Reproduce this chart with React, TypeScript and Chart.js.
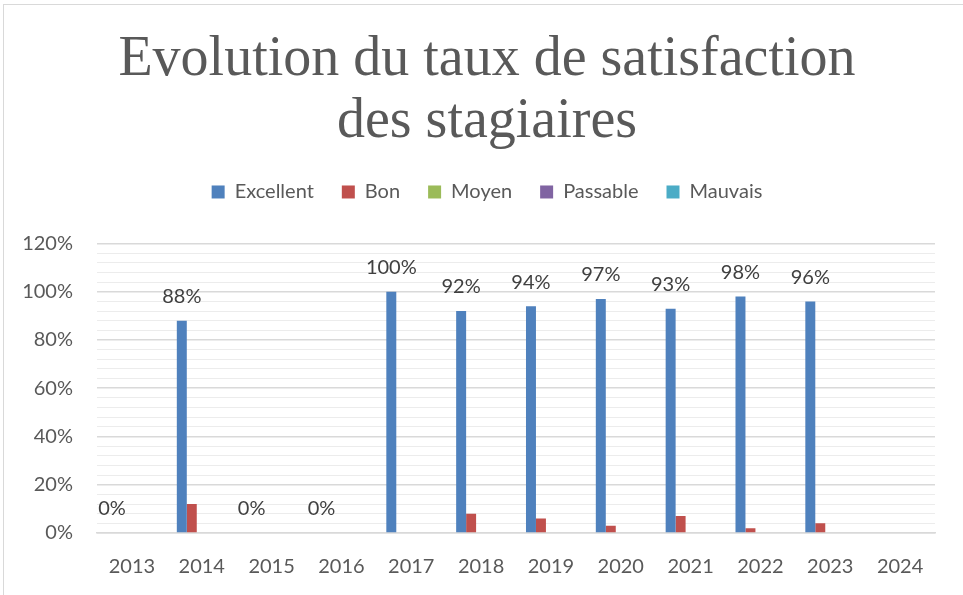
import React, { useEffect, useRef } from 'react';
import { Chart, registerables } from 'chart.js';

Chart.register(...registerables);

const years = ['2013', '2014', '2015', '2016', '2017', '2018', '2019', '2020', '2021', '2022', '2023', '2024'];
const seriesNames = ['Excellent', 'Bon', 'Moyen', 'Passable', 'Mauvais'];
const excellent = [0, 88, 0, 0, 100, 92, 94, 97, 93, 98, 96, null];
const bon = [null, 12, null, null, 0, 8, 6, 3, 7, 2, 4, null];
const moyen = [null, null, null, null, null, null, null, null, null, null, null, null];
const passable = [null, null, null, null, null, null, null, null, null, null, null, null];
const mauvais = [null, null, null, null, null, null, null, null, null, null, null, null];
const seriesColors = ['#4F81BD', '#C0504D', '#9BBB59', '#8064A2', '#4BACC6'];
const titleLines = ['Evolution du taux de satisfaction', 'des stagiaires'];
const yMin = 0;
const yMax = 120;
const yMinorStep = 4;
const yMajorStep = 20;

const SANS = 'Lato';

const valueLabels = {
  id: 'valueLabels',
  afterDatasetsDraw(chart: any) {
    const ctx = chart.ctx;
    const meta = chart.getDatasetMeta(0);
    const data = chart.data.datasets[0].data;
    ctx.save();
    ctx.font = `20px ${SANS}`;
    ctx.fillStyle = '#404040';
    ctx.textAlign = 'center';
    ctx.textBaseline = 'middle';
    meta.data.forEach((el: any, i: number) => {
      const v = data[i];
      if (v === null || v === undefined) return;
      ctx.fillText(`${v}%`, el.x, el.y - 24);
    });
    ctx.restore();
  },
};

export default function App() {
  const ref = useRef<HTMLCanvasElement | null>(null);

  useEffect(() => {
    if (!ref.current) return;
    const all = [excellent, bon, moyen, passable, mauvais];
    const chart = new Chart(ref.current, {
      type: 'bar',
      data: {
        labels: years,
        datasets: seriesNames.map((name, i) => ({
          label: name,
          data: all[i],
          backgroundColor: seriesColors[i],
          borderWidth: 0,
          categoryPercentage: 0.714,
          barPercentage: 1,
          yAxisID: 'y',
        })),
      },
      options: {
        responsive: false,
        animation: false,
        devicePixelRatio: 1,
        layout: { padding: { left: 19, right: 8, top: 0, bottom: 0 } },
        plugins: {
          tooltip: { enabled: false },
          title: {
            display: true,
            text: titleLines,
            color: '#595959',
            font: { family: 'Liberation Serif', size: 56, weight: 'normal', lineHeight: 1.107 },
            padding: { top: 29, bottom: 1 },
          },
          subtitle: {
            display: true,
            text: '',
            position: 'top',
            weight: 500,
            font: { size: 10, lineHeight: 3.15 },
            padding: 0,
          },
          legend: {
            display: true,
            position: 'top',
            labels: {
              color: '#595959',
              font: { family: SANS, size: 20 },
              boxWidth: 13,
              boxHeight: 13,
              padding: 28,
            },
          },
        },
        scales: {
          x: {
            grid: { display: false, drawTicks: false },
            border: { display: true, color: '#d9d9d9', width: 1.5 },
            ticks: { color: '#595959', font: { family: SANS, size: 20 }, padding: 22, maxRotation: 0 },
            afterFit: (s: any) => {
              s.height = 62;
            },
          },
          y: {
            min: yMin,
            max: yMax,
            border: { display: false },
            grid: {
              drawTicks: false,
              tickLength: 0,
              color: (c: any) => (c.tick && c.tick.value % yMajorStep === 0 ? '#d9d9d9' : '#ececec'),
              lineWidth: (c: any) => (c.tick && c.tick.value % yMajorStep === 0 ? 1.5 : 1),
            },
            ticks: {
              stepSize: yMinorStep,
              autoSkip: false,
              color: '#595959',
              font: { family: SANS, size: 20 },
              padding: 24,
              callback: (v: any) => (Number(v) % yMajorStep === 0 ? `${v}%` : ''),
            },
            afterFit: (s: any) => {
              s.width = 78;
            },
          },
          yRight: {
            position: 'right',
            display: true,
            min: yMin,
            max: yMax,
            grid: { display: false, drawTicks: false },
            border: { display: false },
            ticks: { display: false },
            afterFit: (s: any) => {
              s.width = 20;
            },
          },
        },
      },
      plugins: [valueLabels],
    } as any);
    return () => chart.destroy();
  }, []);

  return (
    <div style={{ position: 'fixed', left: 0, top: 0, width: 963, height: 595, overflow: 'hidden', background: '#fff' }}>
      <div
        style={{
          position: 'absolute',
          left: 3,
          top: 4,
          width: 1000,
          height: 700,
          border: '1px solid #d9d9d9',
          boxSizing: 'border-box',
        }}
      />
      <canvas ref={ref} width={963} height={595} style={{ position: 'absolute', left: 0, top: 0, width: 963, height: 595 }} />
    </div>
  );
}
